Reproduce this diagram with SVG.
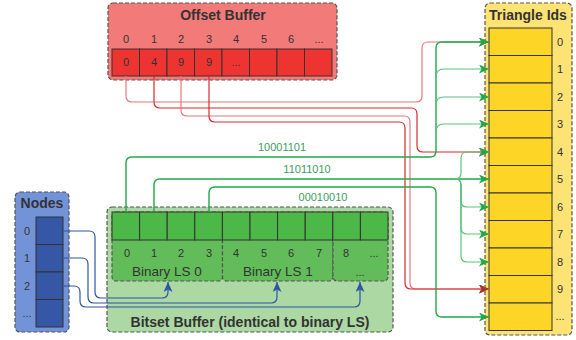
<svg xmlns="http://www.w3.org/2000/svg" width="576" height="340" viewBox="0 0 576 340">
<defs>
<style>
text{font-family:"Liberation Sans",Arial,sans-serif;fill:#333}
.title{font-size:14px;font-weight:bold;text-anchor:middle}
.idx{font-size:11px;text-anchor:middle}
.lbl{font-size:13.5px;text-anchor:middle}
.box{stroke:#555;stroke-width:1.2;stroke-dasharray:4,2}
.cell{stroke:#333;stroke-width:1}
.red1{fill:none;stroke:#e8777b;stroke-width:1.2}
.red2{fill:none;stroke:#d82a2e;stroke-width:1.2}
.gm{fill:none;stroke:#22a848;stroke-width:1.4}
.gb{fill:none;stroke:#5cc27c;stroke-width:1.2}
.bl{fill:none;stroke:#2f55a6;stroke-width:1.2}
.bits{font-size:11px;fill:#3e9c5e;text-anchor:middle}
</style>
<marker id="ag" markerUnits="userSpaceOnUse" markerWidth="11" markerHeight="9" refX="10" refY="4.5" orient="auto"><path d="M0,0 L10,4.5 L0,9 L2.5,4.5 z" fill="#22a848"/></marker>
<marker id="ar" markerUnits="userSpaceOnUse" markerWidth="11" markerHeight="9" refX="10" refY="4.5" orient="auto"><path d="M0,0 L10,4.5 L0,9 L2.5,4.5 z" fill="#a23a2a"/></marker>
<marker id="ab" markerUnits="userSpaceOnUse" markerWidth="11" markerHeight="9" refX="10" refY="4.5" orient="auto"><path d="M0,0 L10,4.5 L0,9 L2.5,4.5 z" fill="#2f55a6"/></marker>
</defs>

<g id="offset-buffer">
<rect class="box" x="108" y="3" width="229" height="77" rx="5" fill="#f27b79"/>
<text class="title" x="223" y="20">Offset Buffer</text>
<text class="idx" x="126" y="43">0</text><text class="idx" x="154" y="43">1</text><text class="idx" x="181" y="43">2</text><text class="idx" x="209" y="43">3</text>
<text class="idx" x="236" y="43">4</text><text class="idx" x="264" y="43">5</text><text class="idx" x="291" y="43">6</text><text class="idx" x="319" y="43">...</text>
<g fill="#ee3431">
<rect class="cell" x="112" y="49" width="27.5" height="27"/><rect class="cell" x="139.5" y="49" width="27.5" height="27"/>
<rect class="cell" x="167" y="49" width="27.5" height="27"/><rect class="cell" x="194.5" y="49" width="27.5" height="27"/>
<rect class="cell" x="222" y="49" width="27.5" height="27"/><rect class="cell" x="249.5" y="49" width="27.5" height="27"/>
<rect class="cell" x="277" y="49" width="27.5" height="27"/><rect class="cell" x="304.5" y="49" width="27.5" height="27"/>
</g>
<text class="idx" x="126" y="66">0</text><text class="idx" x="154" y="66">4</text><text class="idx" x="181" y="66">9</text><text class="idx" x="209" y="66">9</text><text class="idx" x="236" y="66">...</text>
</g>

<g id="triangle-ids">
<rect class="box" x="485" y="3" width="87" height="332" rx="5" fill="#fde374"/>
<text class="title" x="528" y="20">Triangle Ids</text>
<g fill="#fdd527">
<rect class="cell" x="489" y="28" width="63" height="27.5"/><rect class="cell" x="489" y="55.5" width="63" height="27.5"/>
<rect class="cell" x="489" y="83" width="63" height="27.5"/><rect class="cell" x="489" y="110.5" width="63" height="27.5"/>
<rect class="cell" x="489" y="138" width="63" height="27.5"/><rect class="cell" x="489" y="165.5" width="63" height="27.5"/>
<rect class="cell" x="489" y="193" width="63" height="27.5"/><rect class="cell" x="489" y="220.5" width="63" height="27.5"/>
<rect class="cell" x="489" y="248" width="63" height="27.5"/><rect class="cell" x="489" y="275.5" width="63" height="27.5"/>
<rect class="cell" x="489" y="303" width="63" height="27.5"/>
</g>
<text class="idx" x="560" y="46">0</text><text class="idx" x="560" y="73">1</text><text class="idx" x="560" y="101">2</text><text class="idx" x="560" y="128">3</text>
<text class="idx" x="560" y="156">4</text><text class="idx" x="560" y="183">5</text><text class="idx" x="560" y="211">6</text><text class="idx" x="560" y="238">7</text>
<text class="idx" x="560" y="266">8</text><text class="idx" x="560" y="293">9</text><text class="idx" x="560" y="320">...</text>
</g>

<g id="nodes">
<rect class="box" x="15" y="192" width="54" height="140" rx="5" fill="#7393d8"/>
<text class="title" x="42" y="208">Nodes</text>
<g fill="#3656a6">
<rect class="cell" x="36" y="217" width="27" height="27.5"/><rect class="cell" x="36" y="244.5" width="27" height="27.5"/>
<rect class="cell" x="36" y="272" width="27" height="27.5"/><rect class="cell" x="36" y="299.5" width="27" height="27.5"/>
</g>
<text class="idx" x="27" y="235">0</text><text class="idx" x="27" y="262">1</text><text class="idx" x="27" y="290">2</text><text class="idx" x="27" y="317">...</text>
</g>

<g id="bitset-buffer">
<rect class="box" x="107" y="207" width="286" height="125" rx="5" fill="#acd8a4"/>
<rect class="box" x="112" y="212" width="110.5" height="69" rx="4" fill="#63bc5a"/>
<rect class="box" x="222.5" y="212" width="110.5" height="69" rx="4" fill="#63bc5a"/>
<rect class="box" x="333" y="212" width="55" height="69" rx="4" fill="#63bc5a"/>
<g fill="#4cb848">
<rect class="cell" x="112" y="212" width="27.6" height="28"/><rect class="cell" x="139.6" y="212" width="27.6" height="28"/>
<rect class="cell" x="167.2" y="212" width="27.6" height="28"/><rect class="cell" x="194.8" y="212" width="27.6" height="28"/>
<rect class="cell" x="222.4" y="212" width="27.6" height="28"/><rect class="cell" x="250" y="212" width="27.6" height="28"/>
<rect class="cell" x="277.6" y="212" width="27.6" height="28"/><rect class="cell" x="305.2" y="212" width="27.6" height="28"/>
<rect class="cell" x="332.8" y="212" width="27.6" height="28"/><rect class="cell" x="360.4" y="212" width="27.6" height="28"/>
</g>
<text class="idx" x="127" y="257">0</text><text class="idx" x="154" y="257">1</text><text class="idx" x="181" y="257">2</text><text class="idx" x="209" y="257">3</text>
<text class="idx" x="236" y="257">4</text><text class="idx" x="264" y="257">5</text><text class="idx" x="291" y="257">6</text><text class="idx" x="319" y="257">7</text>
<text class="idx" x="346" y="257">8</text><text class="idx" x="374" y="257">...</text>
<text class="lbl" x="167" y="276">Binary LS 0</text>
<text class="lbl" x="278" y="276">Binary LS 1</text>
<text class="idx" x="360" y="276">...</text>
<text class="title" x="250" y="327">Bitset Buffer (identical to binary LS)</text>
</g>

<g id="connectors">
<path class="red1" d="M126,76 V96 q0,6 6,6 H416 q6,0 6,-6 V48 q0,-6 6,-6 H489" marker-end="url(#ar)"/>
<path class="red2" d="M154,76 V102 q0,6 6,6 H411 q6,0 6,6 V146 q0,6 6,6 H489" marker-end="url(#ar)"/>
<path class="red1" d="M181,76 V110 q0,6 6,6 H404 q6,0 6,6 V283 q0,6 6,6 H489" marker-end="url(#ar)"/>
<path class="red2" d="M209,76 V116 q0,6 6,6 H399 q6,0 6,6 V283 q0,6 6,6 H489" marker-end="url(#ar)"/>

<path class="gm" d="M126,212 V163 q0,-6 6,-6 H430 q6,0 6,-6 V48 q0,-6 6,-6 H489" marker-end="url(#ag)"/>
<path class="gb" d="M436,77 q0,-8 8,-8 H489" marker-end="url(#ag)"/>
<path class="gb" d="M436,105 q0,-8 8,-8 H489" marker-end="url(#ag)"/>
<path class="gb" d="M436,132 q0,-8 8,-8 H489" marker-end="url(#ag)"/>

<path class="gm" d="M154,212 V185 q0,-6 6,-6 H489" marker-end="url(#ag)"/>
<path class="gb" d="M455,179 q6,0 6,-6 V158 q0,-6 6,-6 H489" marker-end="url(#ag)"/>
<path class="gb" d="M455,179 q6,0 6,6 V201 q0,6 6,6 H489" marker-end="url(#ag)"/>
<path class="gb" d="M455,179 q6,0 6,6 V228 q0,6 6,6 H489" marker-end="url(#ag)"/>
<path class="gb" d="M455,179 q6,0 6,6 V256 q0,6 6,6 H489" marker-end="url(#ag)"/>

<path class="gm" d="M209,212 V193 q0,-6 6,-6 H430 q6,0 6,6 V311 q0,6 6,6 H489" marker-end="url(#ag)"/>

<text class="bits" x="282" y="151">10001101</text>
<text class="bits" x="307" y="173">11011010</text>
<text class="bits" x="323" y="201">00010010</text>

<path class="bl" d="M63,231 H89 q6,0 6,6 V292 q0,6 6,6 H162 q6,0 6,-6 V282" marker-end="url(#ab)"/>
<path class="bl" d="M63,258 H82 q6,0 6,6 V297 q0,6 6,6 H271 q6,0 6,-6 V282" marker-end="url(#ab)"/>
<path class="bl" d="M63,286 H74 q6,0 6,6 V301 q0,6 6,6 H354 q6,0 6,-6 V282" marker-end="url(#ab)"/>
</g>
</svg>
